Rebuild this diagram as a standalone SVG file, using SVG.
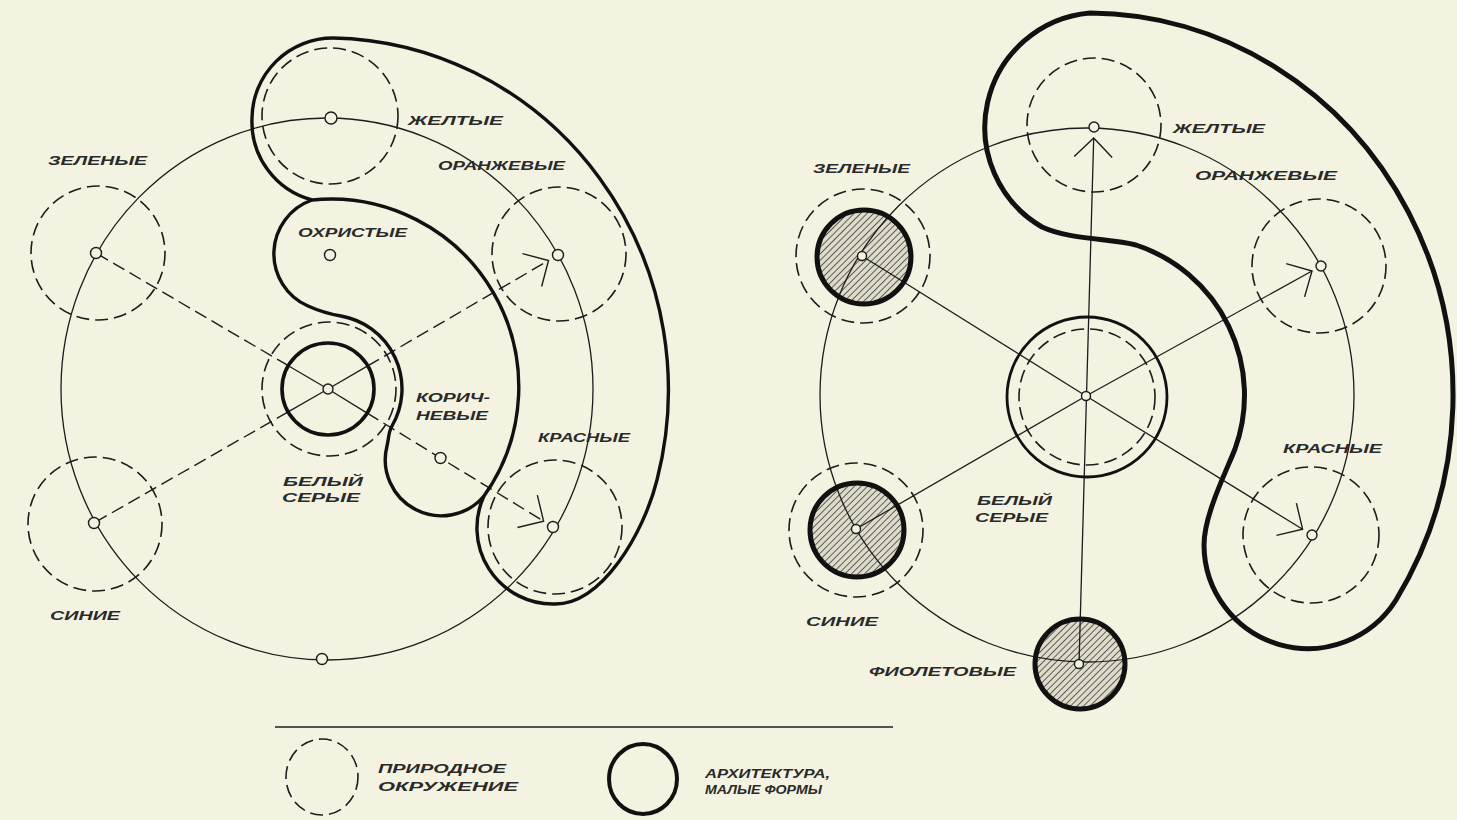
<svg xmlns="http://www.w3.org/2000/svg" width="1457" height="820" viewBox="0 0 1457 820">
<style>
.bg{fill:#f4f2e1}
.thin{fill:none;stroke:#1c1c1c;stroke-width:1.3}
.dash{fill:none;stroke:#1c1c1c;stroke-width:1.6;stroke-dasharray:13 6}
.rdash{fill:none;stroke:#1c1c1c;stroke-width:1.4;stroke-dasharray:13 6}
.thickL{fill:none;stroke:#111;stroke-width:3.4;stroke-linejoin:round}
.thickR{fill:none;stroke:#111;stroke-width:5;stroke-linejoin:round}
.arch{fill:none;stroke:#111;stroke-width:5}
.node{fill:#f4f2e1;stroke:#1c1c1c;stroke-width:1.4}
.lbl{font-family:"Liberation Sans","DejaVu Sans",sans-serif;font-size:13px;font-weight:bold;font-style:italic;fill:#2a2a2a}
</style>
<defs>
<marker id="arr" markerUnits="userSpaceOnUse" viewBox="-24 -24 28 48" refX="0" refY="0" markerWidth="28" markerHeight="48" orient="auto" overflow="visible">
<path d="M -19 -19 L 0 0 L -19 19" fill="none" stroke="#1c1c1c" stroke-width="1.4"/>
</marker>
<pattern id="hatch" patternUnits="userSpaceOnUse" width="4.6" height="4.6" patternTransform="rotate(45)">
<rect width="4.6" height="4.6" fill="#dedbca"/>
<line x1="0" y1="0" x2="0" y2="4.6" stroke="#333" stroke-width="1.5"/>
</pattern>
</defs>
<rect class="bg" x="0" y="0" width="1457" height="820"/>

<!-- LEFT DIAGRAM -->
<g id="left-ring"><ellipse class="thin" cx="327" cy="389" rx="266" ry="271"/></g>
<g id="left-natural">
<circle class="dash" cx="330" cy="116" r="68"/>
<circle class="dash" cx="98" cy="253" r="67"/>
<circle class="dash" cx="95" cy="524" r="67"/>
<circle class="dash" cx="559" cy="254" r="67"/>
<circle class="dash" cx="555" cy="527" r="67"/>
<circle class="dash" cx="329" cy="389" r="67"/>
</g>
<g id="left-connectors">
<line class="thin" x1="328" y1="389" x2="288.3" y2="365.7"/>
<line class="thin" x1="328" y1="389" x2="288.1" y2="411.9"/>
<line class="thin" x1="328" y1="389" x2="367.7" y2="365.9"/>
<line class="thin" x1="328" y1="389" x2="367.2" y2="413.1"/>
<line class="rdash" x1="288.3" y1="365.7" x2="96" y2="253"/>
<line class="rdash" x1="288.1" y1="411.9" x2="94" y2="523"/>
<line class="rdash" x1="367.7" y1="365.9" x2="548.5" y2="260.5" marker-end="url(#arr)"/>
<line class="rdash" x1="367.2" y1="413.1" x2="543.6" y2="521.2" marker-end="url(#arr)"/>
</g>
<g id="left-zones">
<path class="thickL" d="M 312,200 A 81 81 0 0 1 252,118 A 81 81 0 0 1 333,38 A 342 352 0 0 1 657,480 C 644,532 602,606 553,604 A 76 76 0 0 1 484,496 A 188 188 0 0 0 312,200 Z"/>
<path class="thickL" d="M 312,200 A 57 57 0 0 0 308,306 C 319,311 329,314 341,316 A 74 74 0 0 1 392,426 C 388,433 389,438 387,446 A 56 56 0 0 0 484,496"/>
</g>
<g id="left-center"><circle cx="328" cy="389" r="46" fill="none" stroke="#111" stroke-width="3.6"/><circle class="node" cx="328" cy="389" r="5"/></g>
<g id="left-yellow"><circle class="node" cx="331" cy="118" r="6"/><text class="lbl" x="408" y="125" textLength="95" lengthAdjust="spacingAndGlyphs">ЖЕЛТЫЕ</text></g>
<g id="left-green"><circle class="node" cx="96" cy="253" r="5.5"/><text class="lbl" x="48" y="165" textLength="99" lengthAdjust="spacingAndGlyphs">ЗЕЛЕНЫЕ</text></g>
<g id="left-blue"><circle class="node" cx="94" cy="523" r="5.5"/><text class="lbl" x="50" y="620" textLength="70" lengthAdjust="spacingAndGlyphs">СИНИЕ</text></g>
<g id="left-orange"><circle class="node" cx="558" cy="255" r="5.5"/><text class="lbl" x="438" y="170" textLength="127" lengthAdjust="spacingAndGlyphs">ОРАНЖЕВЫЕ</text></g>
<g id="left-red"><circle class="node" cx="553" cy="527" r="5.5"/><text class="lbl" x="538" y="442" textLength="92" lengthAdjust="spacingAndGlyphs">КРАСНЫЕ</text></g>
<g id="left-ochre"><circle class="node" cx="330" cy="255" r="5.5"/><text class="lbl" x="298" y="237" textLength="109" lengthAdjust="spacingAndGlyphs">ОХРИСТЫЕ</text></g>
<g id="left-brown"><circle class="node" cx="440.5" cy="458" r="5.5"/><text class="lbl" x="416" y="402" textLength="74" lengthAdjust="spacingAndGlyphs">КОРИЧ-</text><text class="lbl" x="416" y="420" textLength="72" lengthAdjust="spacingAndGlyphs">НЕВЫЕ</text></g>
<g id="left-white"><text class="lbl" x="283" y="486" textLength="80" lengthAdjust="spacingAndGlyphs">БЕЛЫЙ</text><text class="lbl" x="282" y="502" textLength="78" lengthAdjust="spacingAndGlyphs">СЕРЫЕ</text></g>
<g id="left-bottom"><circle class="node" cx="322" cy="659" r="5.5"/></g>

<!-- RIGHT DIAGRAM -->
<g id="right-hatch-fill">
<circle cx="864" cy="257" r="47" fill="url(#hatch)"/>
<circle cx="857" cy="530" r="47" fill="url(#hatch)"/>
<circle cx="1080" cy="664" r="45" fill="url(#hatch)"/>
</g>
<g id="right-ring"><circle class="thin" cx="1087" cy="395" r="267"/></g>
<g id="right-natural">
<circle class="dash" cx="1094" cy="125" r="67"/>
<circle class="dash" cx="1319" cy="266" r="67"/>
<circle class="dash" cx="1311" cy="535" r="68"/>
<circle class="dash" cx="863" cy="256" r="67"/>
<circle class="dash" cx="856" cy="530" r="67"/>
<circle class="dash" cx="1087" cy="397" r="68"/>
</g>
<g id="right-connectors">
<line class="thin" x1="1086" y1="396" x2="862" y2="256"/>
<line class="thin" x1="1086" y1="396" x2="856" y2="529"/>
<line class="thin" x1="1086" y1="396" x2="1312" y2="271" marker-end="url(#arr)"/>
<line class="thin" x1="1086" y1="396" x2="1302.6" y2="529.2" marker-end="url(#arr)"/>
<line class="thin" x1="1079" y1="664" x2="1093.7" y2="138" marker-end="url(#arr)"/>
</g>
<g id="right-zone">
<path class="thickR" d="M 1090,13 A 365 382 0 0 1 1396,600 A 104 104 0 0 1 1204,545 C 1204,515 1226,472 1235,449 A 158 158 0 0 0 1136,245 C 1110,238 1070,240 1042,227 A 115 115 0 0 1 1090,13 Z"/>
</g>
<g id="right-center"><circle cx="1087" cy="397" r="80" fill="none" stroke="#111" stroke-width="2.8"/><circle class="node" cx="1086" cy="396" r="4.5"/><text class="lbl" x="977" y="505" textLength="75" lengthAdjust="spacingAndGlyphs">БЕЛЫЙ</text><text class="lbl" x="975" y="522" textLength="73" lengthAdjust="spacingAndGlyphs">СЕРЫЕ</text></g>
<g id="right-yellow"><circle class="node" cx="1094" cy="127" r="5"/><text class="lbl" x="1173" y="133" textLength="92" lengthAdjust="spacingAndGlyphs">ЖЕЛТЫЕ</text></g>
<g id="right-orange"><circle class="node" cx="1321" cy="266" r="5"/><text class="lbl" x="1195" y="180" textLength="142" lengthAdjust="spacingAndGlyphs">ОРАНЖЕВЫЕ</text></g>
<g id="right-red"><circle class="node" cx="1312" cy="535" r="5"/><text class="lbl" x="1283" y="453" textLength="99" lengthAdjust="spacingAndGlyphs">КРАСНЫЕ</text></g>
<g id="right-green"><circle class="arch" cx="864" cy="257" r="47"/><circle class="node" cx="862" cy="256" r="4.5"/><text class="lbl" x="813" y="173" textLength="97" lengthAdjust="spacingAndGlyphs">ЗЕЛЕНЫЕ</text></g>
<g id="right-blue"><circle class="arch" cx="857" cy="530" r="47"/><circle class="node" cx="856" cy="529" r="4.5"/><text class="lbl" x="806" y="626" textLength="72" lengthAdjust="spacingAndGlyphs">СИНИЕ</text></g>
<g id="right-violet"><circle class="arch" cx="1080" cy="664" r="45"/><circle class="node" cx="1079" cy="664" r="4.5"/><text class="lbl" x="869" y="676" textLength="147" lengthAdjust="spacingAndGlyphs">ФИОЛЕТОВЫЕ</text></g>

<!-- LEGEND -->
<g id="legend">
<line x1="275" y1="727" x2="893" y2="727" stroke="#1c1c1c" stroke-width="1.5"/>
<g id="legend-natural"><ellipse class="dash" cx="322" cy="777" rx="36" ry="38"/><text class="lbl" x="378" y="773" textLength="128" lengthAdjust="spacingAndGlyphs">ПРИРОДНОЕ</text><text class="lbl" x="378" y="791" textLength="140" lengthAdjust="spacingAndGlyphs">ОКРУЖЕНИЕ</text></g>
<g id="legend-arch"><ellipse cx="643" cy="779" rx="34" ry="35" fill="none" stroke="#111" stroke-width="4"/><text class="lbl" x="705" y="778" textLength="125" lengthAdjust="spacingAndGlyphs">АРХИТЕКТУРА,</text><text class="lbl" x="705" y="794" textLength="117" lengthAdjust="spacingAndGlyphs">МАЛЫЕ ФОРМЫ</text></g>
</g>
</svg>
